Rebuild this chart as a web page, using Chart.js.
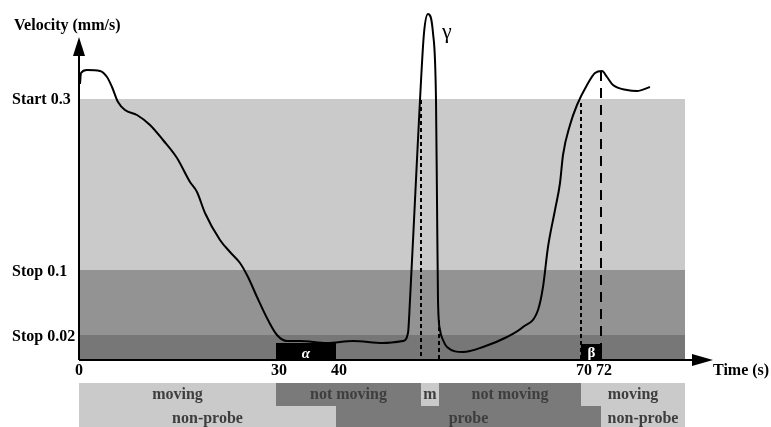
<!DOCTYPE html>
<html lang="en">
<head>
<meta charset="UTF-8" />
<title>Velocity thresholds</title>
<script src="https://cdn.jsdelivr.net/npm/chart.js"></script>
<style>
  html, body { margin: 0; padding: 0; background: #fff; }
  #wrap { width: 771px; height: 427px; }
</style>
</head>
<body>
<div id="wrap"><canvas id="chart" width="771" height="427"></canvas></div>
<script>
// the figure is a schematic (not to scale), so both axes use drawing units
// time axis
const timeTicks = [0, 197, 257, 502, 522];
const timeTickLabels = ['0', '30', '40', '70', '72'];
const timeEnd = 606;

// velocity thresholds
const levelValues = [261, 90, 25];
const levelLabels = ['Start 0.3', 'Stop 0.1', 'Stop 0.02'];

// velocity trace
const traceX = [1, 2, 8, 21, 28, 33, 39, 46, 58, 71, 84, 98, 111, 118, 126, 141, 151, 161, 169, 178, 189, 198, 208, 221, 248, 274, 304, 324, 329, 331, 336, 341, 345, 349, 354, 357, 358, 359, 361, 364, 368, 384, 404, 428, 444, 459, 464, 469, 476, 481, 484, 491, 498, 508, 516, 523, 528, 534, 548, 558, 571];
const traceY = [276, 287, 290, 289, 283, 273, 258, 250, 245, 235, 220, 202, 178, 168, 147, 120, 108, 97, 83, 63, 40, 25, 19, 19, 17, 19, 17, 19, 27, 60, 160, 260, 327, 346, 327, 260, 160, 60, 30, 20, 13, 8, 13, 23, 33, 50, 73, 113, 150, 177, 205, 235, 255, 275, 287, 289, 283, 275, 270, 269, 273];

// events
const alphaSpan = [197, 257];
const betaSpan = [502, 523];
const markerX = [342, 360, 502, 522];
const markerTop = [260, 40, 257, 289];
const markerBottom = [0, 0, 0, 16];

// state rows under the time axis
const motionEdges = [0, 197, 342, 360, 502, 606];
const motionLabels = ['moving', 'not moving', 'm', 'not moving', 'moving'];
const motionDark = [false, true, false, true, false];
const probeEdges = [0, 257, 522, 606];
const probeLabels = ['non-probe', 'probe', 'non-probe'];
const probeDark = [false, true, false];

const LIGHT = '#cacaca';
const MID = '#939393';
const DARK = '#777777';
const ROW_DARK = '#7a7a7a';
const TEXT = '#000';
const ROW_TEXT = '#3e3e3e';
const FONT = '"Liberation Serif", "DejaVu Serif", serif';

// row placement below the axis (drawing units)
const row1 = [-23, -46];
const row2 = [-46, -67];

function strip(x0, x1, top, bottom, color, order) {
  return {
    data: [{ x: x0, y: top }, { x: x1, y: top }],
    borderWidth: 0,
    pointRadius: 0,
    backgroundColor: color,
    fill: { value: bottom },
    order: order
  };
}

const datasets = [];

// threshold bands
const bandEdges = levelValues.concat([0]);
const bandColors = [LIGHT, MID, DARK];
for (let i = 0; i < bandColors.length; i++) {
  datasets.push(strip(0, timeEnd, bandEdges[i], bandEdges[i + 1], bandColors[i], 10));
}

// state rows
for (let i = 0; i < motionLabels.length; i++) {
  datasets.push(strip(motionEdges[i], motionEdges[i + 1], row1[0], row1[1], motionDark[i] ? ROW_DARK : LIGHT, 10));
}
for (let i = 0; i < probeLabels.length; i++) {
  datasets.push(strip(probeEdges[i], probeEdges[i + 1], row2[0], row2[1], probeDark[i] ? ROW_DARK : LIGHT, 10));
}

// vertical markers
for (let i = 0; i < markerX.length; i++) {
  datasets.push({
    data: [{ x: markerX[i], y: markerTop[i] }, { x: markerX[i], y: markerBottom[i] }],
    borderColor: '#000',
    borderWidth: 2,
    borderDash: i === 3 ? [10, 7] : [4, 3],
    pointRadius: 0,
    fill: false,
    order: 3
  });
}

// the trace
datasets.push({
  data: traceX.map((x, i) => ({ x: x, y: traceY[i] })),
  borderColor: '#000',
  borderWidth: 2,
  pointRadius: 0,
  cubicInterpolationMode: 'monotone',
  fill: false,
  order: 2
});

// alpha / beta periods
datasets.push(strip(alphaSpan[0], alphaSpan[1], 17, 0, '#000', 1));
datasets.push(strip(betaSpan[0], betaSpan[1], 16, 0, '#000', 1));

const decor = {
  id: 'decor',
  afterDatasetsDraw(chart) {
    const ctx = chart.ctx;
    const xs = chart.scales.x;
    const ys = chart.scales.y;
    const X = v => xs.getPixelForValue(v);
    const Y = v => ys.getPixelForValue(v);
    const left = chart.chartArea.left;

    ctx.save();
    // axes with arrow heads
    ctx.strokeStyle = '#000';
    ctx.fillStyle = '#000';
    ctx.lineWidth = 2;
    ctx.beginPath();
    ctx.moveTo(X(0), Y(0));
    ctx.lineTo(X(0), Y(308));
    ctx.moveTo(X(0), Y(0));
    ctx.lineTo(X(616), Y(0));
    ctx.stroke();

    ctx.beginPath();
    ctx.moveTo(X(0), Y(323));
    ctx.lineTo(X(0) - 6, Y(304));
    ctx.lineTo(X(0) + 6, Y(304));
    ctx.closePath();
    ctx.fill();

    ctx.beginPath();
    ctx.moveTo(X(634), Y(0));
    ctx.lineTo(X(613), Y(0) - 6);
    ctx.lineTo(X(613), Y(0) + 6);
    ctx.closePath();
    ctx.fill();

    // axis titles and threshold labels
    ctx.textBaseline = 'alphabetic';
    ctx.font = 'bold 16px ' + FONT;
    ctx.textAlign = 'left';
    ctx.fillText('Velocity (mm/s)', left + 14, Y(330));
    const levelBase = [-5, -6, -6];
    levelLabels.forEach((t, i) => {
      ctx.fillText(t, left + 12, Y(levelValues[i] + levelBase[i]));
    });
    ctx.fillText('Time (s)', X(634), Y(-15));

    // time ticks
    ctx.textAlign = 'center';
    timeTickLabels.forEach((t, i) => {
      ctx.fillText(t, X(timeTicks[i]) + (i === 0 ? 0 : 3), Y(-15));
    });

    // state row labels
    ctx.fillStyle = ROW_TEXT;
    motionLabels.forEach((t, i) => {
      ctx.fillText(t, X((motionEdges[i] + motionEdges[i + 1]) / 2), Y(-39));
    });
    probeLabels.forEach((t, i) => {
      ctx.fillText(t, X((probeEdges[i] + probeEdges[i + 1]) / 2), Y(-63));
    });

    // period labels
    ctx.fillStyle = '#fff';
    ctx.font = 'italic bold 15px ' + FONT;
    ctx.fillText('\u03b1', X((alphaSpan[0] + alphaSpan[1]) / 2), Y(2));
    ctx.font = 'bold 15px ' + FONT;
    ctx.fillText('\u03b2', X((betaSpan[0] + betaSpan[1]) / 2), Y(3));

    // peak label
    ctx.fillStyle = '#000';
    ctx.font = '22px ' + FONT;
    ctx.textAlign = 'left';
    ctx.fillText('\u03b3', X(363), Y(322));
    ctx.restore();
  }
};

new Chart(document.getElementById('chart'), {
  type: 'line',
  data: { datasets: datasets },
  options: {
    responsive: false,
    animation: false,
    events: [],
    devicePixelRatio: 1,
    layout: { padding: 0 },
    plugins: {
      legend: { display: false },
      tooltip: { enabled: false }
    },
    scales: {
      x: { type: 'linear', min: -79, max: 692, display: false },
      y: { type: 'linear', min: -67, max: 360, display: false }
    }
  },
  plugins: [decor]
});
</script>
</body>
</html>
